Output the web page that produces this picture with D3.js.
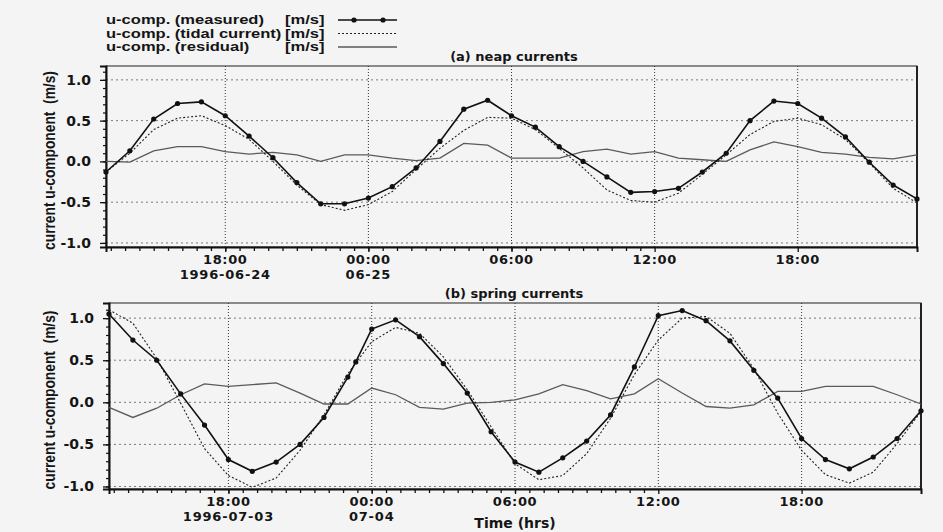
<!DOCTYPE html>
<html>
<head>
<meta charset="utf-8">
<script src="https://cdn.jsdelivr.net/npm/d3@7"></script>
<style>
  body { margin: 0; background: #f4f4f4; }
  svg { display: block; font-family: "DejaVu Sans", sans-serif; }
</style>
</head>
<body>
<svg width="943" height="532"></svg>
<script>
// hourly values from 13:00 on the first day to 23:00 on the next day
const neapMeasured = [-0.13, 0.13, 0.52, 0.71, 0.73, 0.56, 0.31, 0.045, -0.26, -0.52, -0.52,
  -0.45, -0.31, -0.08, 0.245, 0.64, 0.75, 0.56, 0.42, 0.18, 0.0, -0.19, -0.38, -0.37,
  -0.33, -0.13, 0.10, 0.50, 0.74, 0.71, 0.53, 0.30, -0.01, -0.29, -0.46];
const neapTidal = [-0.13, 0.10, 0.39, 0.53, 0.56, 0.44, 0.27, 0.0, -0.29, -0.53, -0.60,
  -0.53, -0.37, -0.10, 0.16, 0.38, 0.54, 0.53, 0.39, 0.16, -0.08, -0.35, -0.48, -0.50,
  -0.39, -0.16, 0.08, 0.33, 0.49, 0.53, 0.45, 0.27, -0.02, -0.33, -0.51];
const neapResidual = [0.0, -0.01, 0.13, 0.18, 0.18, 0.12, 0.09, 0.11, 0.08, 0.0, 0.08,
  0.08, 0.04, 0.01, 0.04, 0.22, 0.20, 0.04, 0.04, 0.04, 0.12, 0.15, 0.09, 0.12,
  0.04, 0.02, 0.0, 0.14, 0.24, 0.18, 0.11, 0.09, 0.05, 0.03, 0.08];

// spring measured has one extra sample at 23:20
const springMeasuredHours = [0, 1, 2, 3, 4, 5, 6, 7, 8, 9, 10, 10.33, 11, 12, 13, 14, 15, 16, 17,
  18, 19, 20, 21, 22, 23, 24, 25, 26, 27, 28, 29, 30, 31, 32, 33, 34];
const springMeasured = [1.05, 0.74, 0.50, 0.10, -0.27, -0.68, -0.82, -0.71, -0.50, -0.18, 0.30, 0.48,
  0.87, 0.98, 0.78, 0.46, 0.11, -0.35, -0.71, -0.83, -0.66, -0.46, -0.15, 0.42, 1.03,
  1.09, 0.97, 0.73, 0.38, 0.05, -0.43, -0.68, -0.79, -0.65, -0.43, -0.10];
const springTidal = [1.10, 0.94, 0.52, -0.01, -0.55, -0.87, -1.01, -0.90, -0.57, -0.15, 0.34,
  0.72, 0.89, 0.82, 0.54, 0.15, -0.29, -0.73, -0.92, -0.87, -0.61, -0.19, 0.33, 0.74,
  1.00, 1.02, 0.82, 0.40, -0.13, -0.57, -0.86, -0.96, -0.83, -0.49, -0.11];
const springResidual = [-0.06, -0.18, -0.07, 0.09, 0.22, 0.19, 0.21, 0.23, 0.11, -0.02, -0.02,
  0.17, 0.09, -0.06, -0.08, -0.01, 0.0, 0.03, 0.10, 0.21, 0.14, 0.04, 0.10, 0.28,
  0.11, -0.05, -0.07, -0.03, 0.13, 0.13, 0.19, 0.19, 0.19, 0.09, -0.02];

const legendLabels = ["u-comp. (measured)", "u-comp. (tidal current)", "u-comp. (residual)"];
const legendUnit = "[m/s]";
const yTicks = [-1.0, -0.5, 0.0, 0.5, 1.0];

const parse = d3.timeParse("%Y-%m-%d %H:%M");
const svg = d3.select("svg");

const panels = [
  { title: "(a) neap currents", start: "1996-06-24 13:00", end: "1996-06-25 23:00", firstDay: "1996-06-24", secondDay: "06-25",
    measuredHours: d3.range(neapMeasured.length), measured: neapMeasured, tidal: neapTidal, residual: neapResidual,
    left: 106, right: 917, top: 66, bottom: 247, yDomain: [-1.05, 1.17] },
  { title: "(b) spring currents", start: "1996-07-03 13:00", end: "1996-07-04 23:00", firstDay: "1996-07-03", secondDay: "07-04",
    measuredHours: springMeasuredHours, measured: springMeasured, tidal: springTidal, residual: springResidual,
    left: 109, right: 921, top: 303, bottom: 489, yDomain: [-1.03, 1.18] }
];

panels.forEach(function(p) {
  const t0 = parse(p.start), t1 = parse(p.end);
  const x = d3.scaleTime().domain([t0, t1]).range([p.left, p.right]);
  const y = d3.scaleLinear().domain(p.yDomain).range([p.bottom, p.top]);
  const g = svg.append("g");

  // grid
  g.selectAll(".hgrid").data(yTicks).enter().append("line")
    .attr("x1", p.left).attr("x2", p.right)
    .attr("y1", d => y(d)).attr("y2", d => y(d))
    .attr("stroke", "#7a7a7a").attr("stroke-width", 1).attr("stroke-dasharray", "2,3");
  const sixHours = d3.timeHour.every(6).range(t0, t1);
  g.selectAll(".vgrid").data(sixHours).enter().append("line")
    .attr("x1", d => x(d)).attr("x2", d => x(d))
    .attr("y1", p.top).attr("y2", p.bottom)
    .attr("stroke", "#333").attr("stroke-width", 1).attr("stroke-dasharray", "1,2");

  // frame
  g.append("rect").attr("x", p.left).attr("y", p.top)
    .attr("width", p.right - p.left).attr("height", p.bottom - p.top)
    .attr("fill", "none").attr("stroke", "#444").attr("stroke-width", 1.2);
  g.append("line").attr("x1", p.right).attr("x2", p.right).attr("y1", p.top).attr("y2", p.bottom)
    .attr("stroke", "#222").attr("stroke-width", 2);

  // minor x ticks every 36 minutes, counted from midnight
  const midnight = d3.timeDay.floor(t0);
  const minor = d3.range(0, 60).map(i => d3.timeMinute.offset(midnight, i * 36)).filter(d => d >= t0 && d <= t1);
  const xm = g.append("g").attr("transform", "translate(0," + p.bottom + ")")
    .call(d3.axisBottom(x).tickValues(minor).tickSize(4).tickFormat(""));
  xm.select(".domain").remove();
  xm.selectAll("text").remove();
  xm.selectAll("line").attr("stroke", "#111").attr("stroke-width", 1.3);

  // major x ticks and labels
  const xa = g.append("g").attr("transform", "translate(0," + p.bottom + ")")
    .call(d3.axisBottom(x).tickValues(sixHours).tickSize(5).tickFormat(""));
  xa.selectAll("text").remove();
  xa.select(".domain").attr("stroke", "#111").attr("stroke-width", 2);
  xa.selectAll("line").attr("stroke", "#111").attr("stroke-width", 1.3);
  const fmt = d3.timeFormat("%H:%M");
  sixHours.forEach(function(d, i) {
    g.append("text").attr("x", x(d)).attr("y", p.bottom + 17)
      .attr("text-anchor", "middle").attr("font-size", 13).attr("font-weight", "bold")
      .attr("fill", "#151515").attr("letter-spacing", 0.6).text(fmt(d));
    const day = i === 0 ? p.firstDay : (i === 1 ? p.secondDay : null);
    if (day) {
      g.append("text").attr("x", x(d)).attr("y", p.bottom + 31.5)
        .attr("text-anchor", "middle").attr("font-size", 13).attr("font-weight", "bold")
        .attr("fill", "#151515").attr("letter-spacing", 0.8).text(day);
    }
  });

  // y axis
  const yMinor = g.append("g").attr("transform", "translate(" + p.left + ",0)")
    .call(d3.axisLeft(y).tickValues(d3.range(-10, 12).map(v => v / 10)).tickSize(3).tickFormat(""));
  yMinor.select(".domain").remove();
  yMinor.selectAll("text").remove();
  yMinor.selectAll("line").attr("stroke", "#111").attr("stroke-width", 1.2);
  const ya = g.append("g").attr("transform", "translate(" + p.left + ",0)")
    .call(d3.axisLeft(y).tickValues(yTicks).tickSize(6).tickPadding(9).tickFormat(d => d.toFixed(1)));
  ya.select(".domain").attr("stroke", "#111").attr("stroke-width", 2);
  ya.selectAll("line").attr("stroke", "#111").attr("stroke-width", 1.3);
  ya.selectAll("text").attr("font-size", 14).attr("font-weight", "bold").attr("fill", "#151515")
    .attr("font-family", "DejaVu Sans, sans-serif");

  // y label, condensed along its length
  const cy = (p.top + p.bottom) / 2 + 4;
  g.append("text").attr("transform", "translate(55," + cy + ") rotate(-90) scale(0.81,1)")
    .attr("text-anchor", "middle").attr("font-family", "Liberation Sans, Arial, sans-serif")
    .attr("font-size", 17).attr("font-weight", "bold").attr("fill", "#151515")
    .style("white-space", "pre")
    .text("current u-component  (m/s)");

  // title
  g.append("text").attr("x", 514).attr("y", p.top - 5).attr("text-anchor", "middle")
    .attr("font-size", 13).attr("font-weight", "bold").attr("fill", "#151515").text(p.title);

  // series
  const hourly = d3.range(p.tidal.length);
  const at = h => d3.timeMinute.offset(t0, Math.round(h * 60));
  const line = d3.line().x(d => x(at(d[0]))).y(d => y(d[1]));
  const s = g.append("g");
  s.append("path").datum(hourly.map(i => [i, p.residual[i]]))
    .attr("d", line).attr("fill", "none").attr("stroke", "#5a5a5a").attr("stroke-width", 1.3);
  s.append("path").datum(hourly.map(i => [i, p.tidal[i]]))
    .attr("d", line).attr("fill", "none").attr("stroke", "#222").attr("stroke-width", 1.1)
    .attr("stroke-dasharray", "2,2");
  const meas = p.measuredHours.map((h, i) => [h, p.measured[i]]);
  s.append("path").datum(meas)
    .attr("d", line).attr("fill", "none").attr("stroke", "#111").attr("stroke-width", 1.6);
  s.selectAll("circle").data(meas).enter().append("circle")
    .attr("cx", d => x(at(d[0]))).attr("cy", d => y(d[1])).attr("r", 2.6).attr("fill", "#111");
});

// x axis title
svg.append("text").attr("x", 515).attr("y", 528).attr("text-anchor", "middle")
  .attr("font-size", 14).attr("font-weight", "bold").attr("fill", "#151515").text("Time (hrs)");

// legend: the original type is a wide Helvetica, so stretch Liberation Sans sideways
const sx = 1.378;
const leg = svg.append("g");
const legText = leg.append("g").attr("transform", "scale(" + sx + ",1)")
  .attr("font-family", "Liberation Sans, Arial, sans-serif").attr("font-size", 12)
  .attr("font-weight", "bold").attr("fill", "#151515");
legendLabels.forEach(function(lbl, i) {
  const ly = 20 + i * 13.5;
  legText.append("text").attr("x", 106 / sx).attr("y", ly + 4.5).text(lbl);
  legText.append("text").attr("x", 285 / sx).attr("y", ly + 4.5).text(legendUnit);
  const ln = leg.append("line").attr("x1", 338).attr("x2", 397).attr("y1", ly).attr("y2", ly);
  if (i === 0) {
    ln.attr("stroke", "#111").attr("stroke-width", 1.6);
    leg.selectAll(".m").data([354, 383]).enter().append("circle")
      .attr("cx", d => d).attr("cy", ly).attr("r", 2.6).attr("fill", "#111");
  } else if (i === 1) {
    ln.attr("stroke", "#222").attr("stroke-width", 1.1).attr("stroke-dasharray", "2,2");
  } else {
    ln.attr("stroke", "#5a5a5a").attr("stroke-width", 1.3);
  }
});
</script>
</body>
</html>
